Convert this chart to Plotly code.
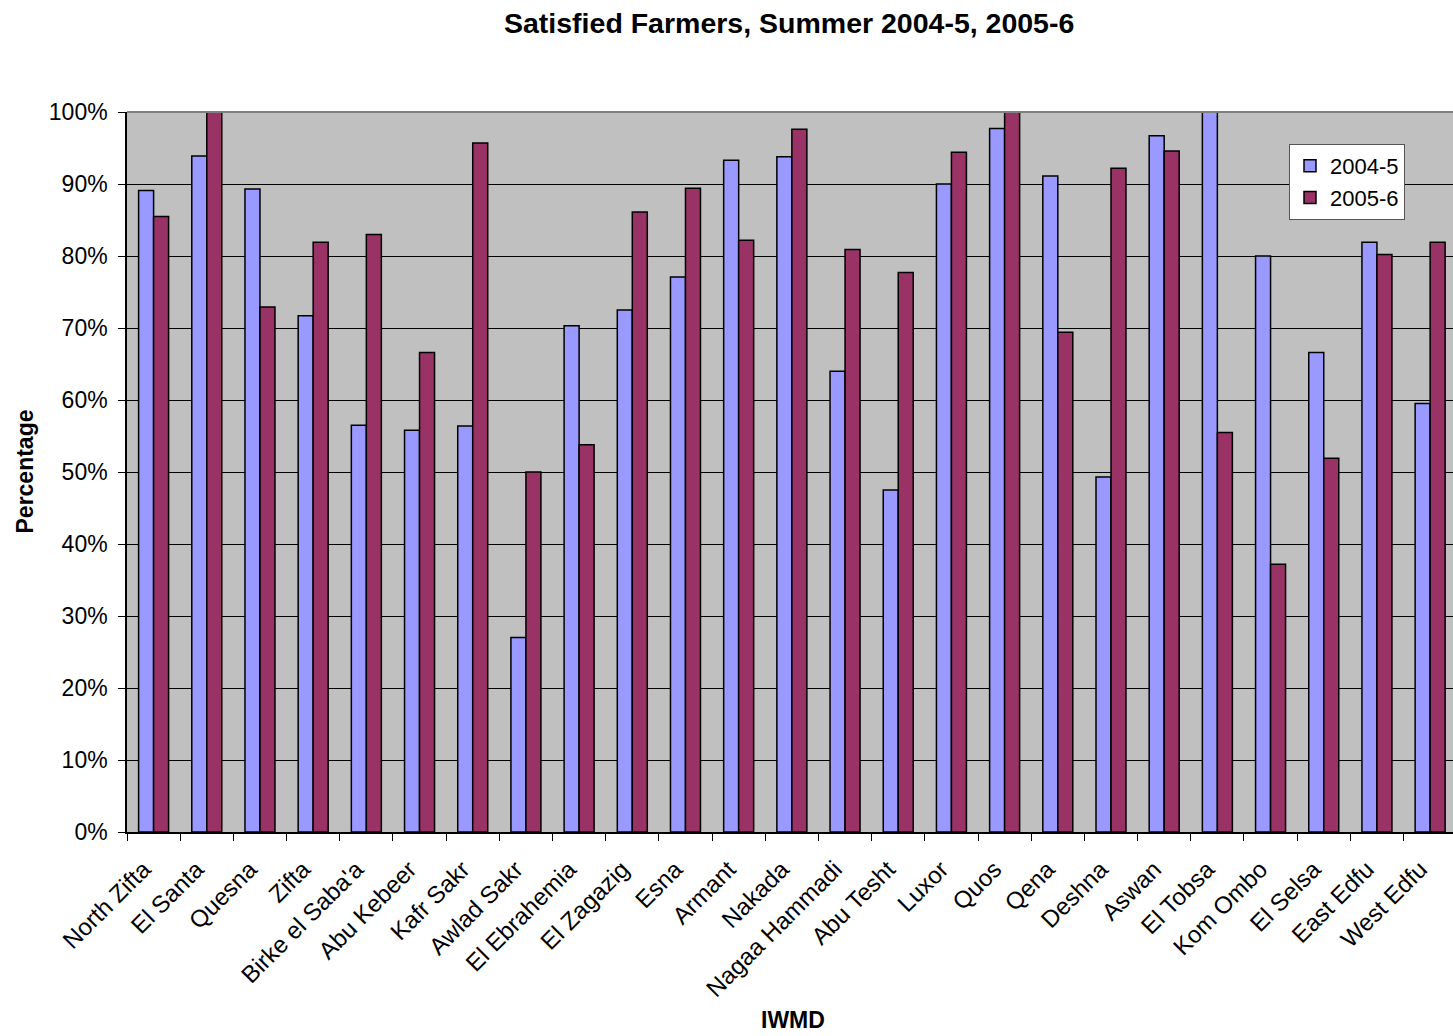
import plotly.graph_objects as go

categories = ["North Zifta", "El Santa", "Quesna", "Zifta", "Birke el Saba'a", "Abu Kebeer",
              "Kafr Sakr", "Awlad Sakr", "El Ebrahemia", "El Zagazig", "Esna", "Armant",
              "Nakada", "Nagaa Hammadi", "Abu Tesht", "Luxor", "Quos", "Qena", "Deshna",
              "Aswan", "El Tobsa", "Kom Ombo", "El Selsa", "East Edfu", "West Edfu"]
values_2004_5 = [89.1, 93.9, 89.3, 71.7, 56.5, 55.8, 56.4, 27.0, 70.3, 72.5, 77.1, 93.3,
                 93.8, 64.0, 47.5, 90.0, 97.7, 91.1, 49.3, 96.7, 100.0, 80.0, 66.6, 81.9, 59.5]
values_2005_6 = [85.5, 100.0, 72.9, 81.9, 83.0, 66.6, 95.7, 50.0, 53.8, 86.1, 89.4, 82.2,
                 97.6, 80.9, 77.7, 94.4, 100.0, 69.4, 92.2, 94.6, 55.5, 37.2, 51.9, 80.2, 81.9]
series_names = ["2004-5", "2005-6"]
y_ticks = list(range(0, 101, 10))

FONT = "Liberation Sans, Arial, sans-serif"

fig = go.Figure()
fig.add_trace(go.Bar(x=categories, y=values_2004_5, name=series_names[0],
                     marker=dict(color="#9999FF", line=dict(color="black", width=1.5))))
fig.add_trace(go.Bar(x=categories, y=values_2005_6, name=series_names[1],
                     marker=dict(color="#993366", line=dict(color="black", width=1.5))))

W, H = 1453, 1036
L, T, B = 127, 112, 204
pw = W - L
ph = H - T - B

def px_to_paper_x(px):
    return (px - L) / pw

def px_to_paper_y(py):
    return (H - B - py) / ph

fig.update_layout(
    width=W, height=H,
    margin=dict(l=L, r=0, t=T, b=B, pad=0),
    paper_bgcolor="white",
    plot_bgcolor="#C0C0C0",
    barmode="group",
    bargap=0.436,
    bargroupgap=0,
    font=dict(family=FONT, size=23, color="black"),
    showlegend=True,
    legend=dict(
        x=px_to_paper_x(1289), y=px_to_paper_y(144), xanchor="left", yanchor="top",
        bgcolor="white", bordercolor="#555555", borderwidth=1,
        font=dict(family=FONT, size=22, color="black"),
        itemwidth=30, tracegroupgap=0,
    ),
    xaxis=dict(
        type="category",
        range=[-0.5, 24.43],
        showgrid=False,
        showline=True, linecolor="black", linewidth=1.5,
        ticks="outside", ticklen=7, tickcolor="black", tickwidth=1,
        tickson="boundaries",
        tickangle=-45,
        tickfont=dict(family=FONT, size=24, color="black"),
        ticklabelstandoff=12,
        ticklabelshift=-10,
        zeroline=False,
    ),
    yaxis=dict(
        range=[0, 100],
        tickvals=y_ticks,
        ticktext=[f"{v}%" for v in y_ticks],
        showgrid=True, gridcolor="black", gridwidth=1,
        showline=True, linecolor="black", linewidth=1.5,
        ticks="outside", ticklen=7, tickcolor="black", tickwidth=1,
        tickfont=dict(family=FONT, size=23, color="black"),
        ticklabelstandoff=6,
        zeroline=False,
    ),
)

fig.add_annotation(text="<b>Satisfied Farmers, Summer 2004-5, 2005-6</b>",
                   xref="paper", yref="paper",
                   x=px_to_paper_x(788.5), y=px_to_paper_y(23),
                   xanchor="center", yanchor="middle", showarrow=False,
                   font=dict(family=FONT, size=28.5, color="black"))
fig.add_annotation(text="<b>Percentage</b>", xref="paper", yref="paper",
                   x=px_to_paper_x(24), y=px_to_paper_y(471.5),
                   xanchor="center", yanchor="middle", showarrow=False, textangle=-90,
                   font=dict(family=FONT, size=23, color="black"))
fig.add_annotation(text="<b>IWMD</b>", xref="paper", yref="paper",
                   x=px_to_paper_x(793), y=px_to_paper_y(1020),
                   xanchor="center", yanchor="middle", showarrow=False,
                   font=dict(family=FONT, size=23, color="black"))

# gray top border of plot area
fig.add_shape(type="line", xref="paper", yref="paper", x0=0, x1=1, y0=1, y1=1,
              line=dict(color="#808080", width=2), layer="above")

fig.write_html("out.html")
